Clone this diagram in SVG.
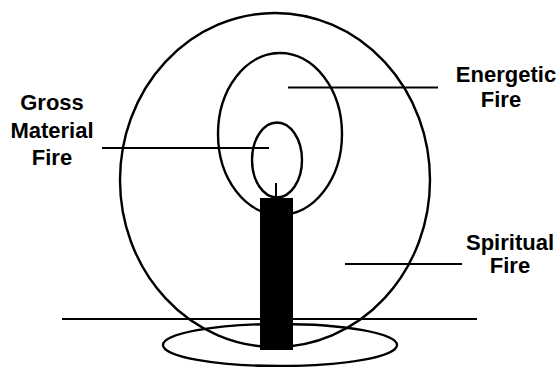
<svg xmlns="http://www.w3.org/2000/svg" width="560" height="367" viewBox="0 0 560 367">
<style>
.o{fill:none;stroke:#000;stroke-width:2.4}
.l{stroke:#000;stroke-width:2;fill:none}
.t{font-family:"Liberation Sans",Arial,sans-serif;font-size:22px;font-weight:bold;fill:#000;text-anchor:middle}
</style>
<rect width="560" height="367" fill="#fff"/>
<g id="spiritual-fire"><ellipse class="o" cx="275" cy="180" rx="155" ry="167"/></g>
<g id="energetic-fire"><ellipse class="o" cx="280" cy="134" rx="62" ry="81"/></g>
<g id="gross-fire"><ellipse class="o" cx="277" cy="160" rx="25" ry="37.5"/></g>
<g id="base"><ellipse class="o" cx="280" cy="345" rx="117" ry="21"/></g>
<g id="candle">
<line class="l" x1="276" y1="183" x2="276" y2="199"/>
<rect x="260" y="198" width="33" height="152" fill="#000"/>
</g>
<g id="connectors">
<line class="l" x1="62" y1="319" x2="477" y2="319"/>
<line class="l" x1="102" y1="148" x2="269" y2="148"/>
<line class="l" x1="288" y1="87.5" x2="438" y2="87.5"/>
<line class="l" x1="345" y1="264" x2="462" y2="264"/>
</g>
<g id="label-gross">
<text class="t" x="52" y="110">Gross</text>
<text class="t" x="52" y="138">Material</text>
<text class="t" x="52" y="165">Fire</text>
</g>
<g id="label-energetic">
<text class="t" x="506" y="82">Energetic</text>
<text class="t" x="501" y="107">Fire</text>
</g>
<g id="label-spiritual">
<text class="t" x="510" y="250">Spiritual</text>
<text class="t" x="510" y="273">Fire</text>
</g>
</svg>
